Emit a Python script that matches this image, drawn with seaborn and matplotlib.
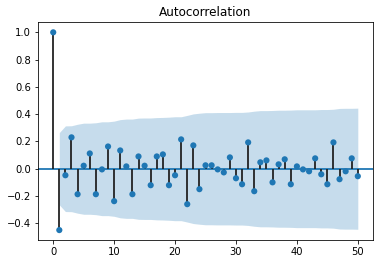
import seaborn as sns
import matplotlib.pyplot as plt
import pandas as pd

# Autocorrelation values, lags 0..50
lags = list(range(51))
acf = [1.0, -0.45, -0.048, 0.23, -0.187, 0.022, 0.112, -0.187, -0.005, 0.163,
       -0.238, 0.134, 0.017, -0.187, 0.09, 0.022, -0.121, 0.09, 0.105, -0.121,
       -0.048, 0.215, -0.26, 0.171, -0.15, 0.025, 0.025, -0.005, -0.027, 0.083,
       -0.07, -0.114, 0.193, -0.165, 0.047, 0.061, -0.1, 0.032, 0.069, -0.114,
       0.017, -0.005, -0.019, 0.076, -0.041, -0.114, 0.193, -0.077, -0.019, 0.076,
       -0.055]

# Half-width of the confidence band, lags 1..50
band_lags = list(range(1, 51))
band = [0.265, 0.314, 0.315, 0.326, 0.334, 0.334, 0.337, 0.344, 0.344, 0.349,
        0.360, 0.364, 0.364, 0.371, 0.372, 0.372, 0.375, 0.376, 0.378, 0.381,
        0.381, 0.391, 0.402, 0.407, 0.411, 0.411, 0.412, 0.412, 0.412, 0.413,
        0.413, 0.416, 0.422, 0.426, 0.426, 0.427, 0.429, 0.429, 0.430, 0.432,
        0.432, 0.432, 0.432, 0.434, 0.434, 0.436, 0.442, 0.443, 0.443, 0.444]

df = pd.DataFrame({'lag': lags, 'acf': acf})

blue = '#1f77b4'
sns.set_theme(style="ticks", rc={
    'axes.edgecolor': 'black', 'xtick.color': 'black', 'ytick.color': 'black',
    'text.color': 'black', 'axes.labelcolor': 'black',
    'axes.linewidth': 0.8,
    'xtick.major.size': 3.5, 'ytick.major.size': 3.5,
    'xtick.major.width': 0.8, 'ytick.major.width': 0.8,
    'font.size': 10, 'xtick.labelsize': 10, 'ytick.labelsize': 10,
    'axes.titlesize': 12,
})
plt.rcParams['font.family'] = ['DejaVu Sans']

fig, ax = plt.subplots(figsize=(383 / 72, 264 / 72), dpi=72)
fig.subplots_adjust(left=0.0992, right=0.974, top=0.915, bottom=0.091)

ax.vlines(df['lag'], 0, df['acf'], colors='#222222', linewidth=1.8, zorder=2)
ax.axhline(0, color=blue, linewidth=1.8, zorder=1)
sns.scatterplot(data=df, x='lag', y='acf', color=blue, s=38,
                edgecolor='none', ax=ax, zorder=3)
ax.fill_between(band_lags, [-b for b in band], band, color=blue,
                alpha=0.25, linewidth=0, zorder=0)

ax.set_title('Autocorrelation')
ax.set_xlabel('')
ax.set_ylabel('')
ax.set_xticks([0, 10, 20, 30, 40, 50])
ax.set_yticks([-0.4, -0.2, 0.0, 0.2, 0.4, 0.6, 0.8, 1.0])
ax.margins(0.05)

plt.savefig('out.png', dpi=72)
